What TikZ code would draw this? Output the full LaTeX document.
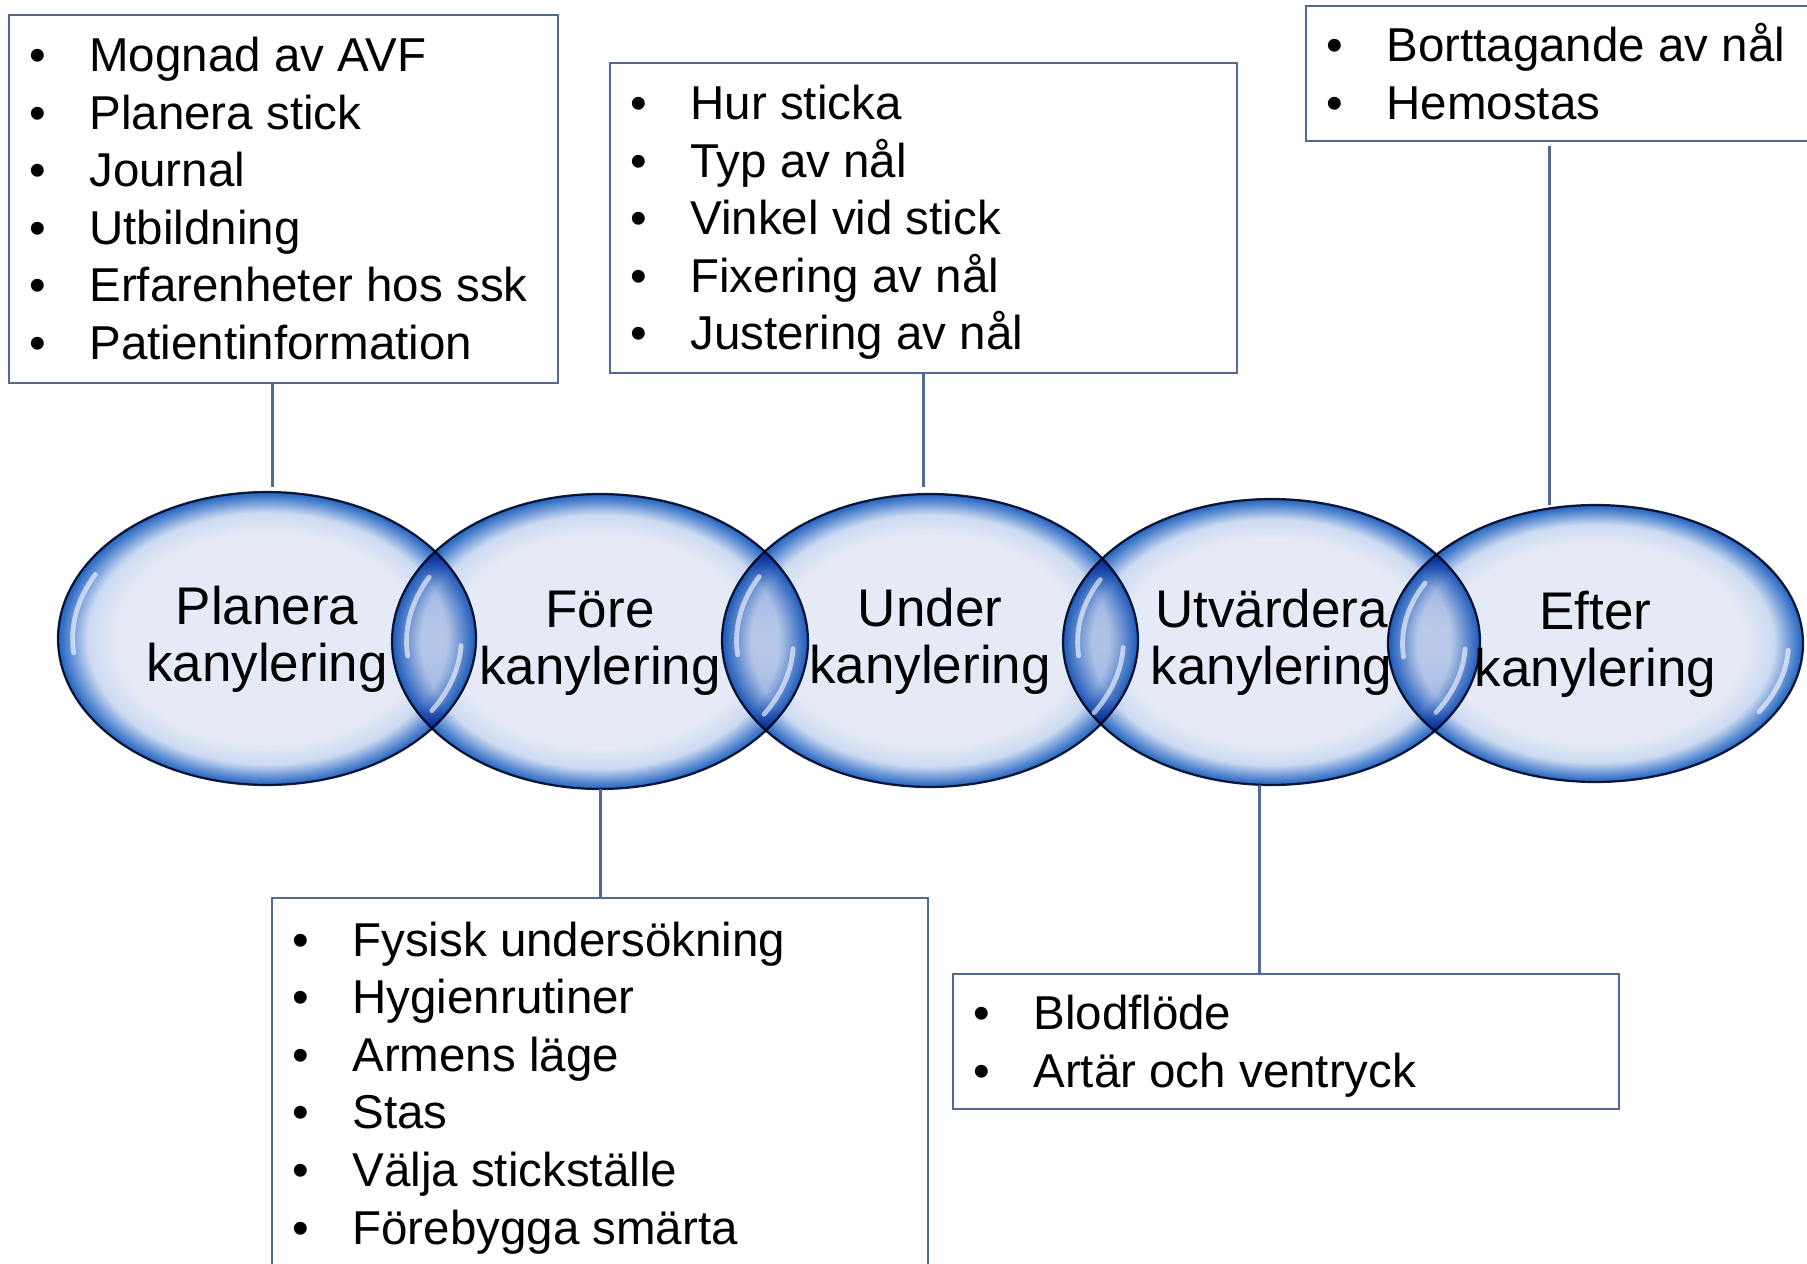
\documentclass[tikz,border=0pt]{standalone}
\usepackage{fontspec}
\setmainfont{Liberation Sans}
\usetikzlibrary{shapes.geometric,calc}
\definecolor{bubIn}{RGB}{229,234,246}
\definecolor{bubMid}{RGB}{204,218,241}
\definecolor{bubRim}{RGB}{88,138,210}
\definecolor{bubEdge}{RGB}{34,98,188}
\definecolor{bubOut}{RGB}{18,32,62}
\definecolor{boxc}{RGB}{84,106,148}
\pgfdeclareradialshading{bubble}{\pgfpoint{0bp}{0bp}}{color(0bp)=(bubIn); color(18bp)=(bubIn); color(21.5bp)=(bubMid); color(23.8bp)=(bubRim); color(25bp)=(bubEdge); color(50bp)=(bubEdge)}
\newcommand\itm[1]{\makebox[28pt][c]{•}\hspace{12pt}#1}
\newcommand\shineat[4]{%
  \draw[shine] plot[domain=152:186,samples=25] ({#1+0.93*#3*cos(\x)},{#2-0.93*#4*sin(\x)});
  \draw[shine] plot[domain=-32:-3,samples=25] ({#1+0.93*#3*cos(\x)},{#2-0.93*#4*sin(\x)});}
\tikzset{
  bubblenode/.style={ellipse, shading=bubble, draw=bubOut, line width=1.1pt,
    inner sep=0pt, outer sep=0pt, blend mode=multiply,
    font=\fontsize{26.5pt}{28.5pt}\selectfont},
  listbox/.style={draw=boxc, line width=1.25pt, fill=white, inner sep=0pt,
    outer sep=0pt, anchor=north west},
  listtext/.style={inner sep=0pt, anchor=base west,
    font=\fontsize{23.75pt}{28.8pt}\selectfont},
  conn/.style={draw=boxc, line width=1.5pt},
  shine/.style={white, line width=2.4pt, opacity=0.6, line cap=round}
}
\begin{document}
\begin{tikzpicture}[x=0.5pt,y=-0.5pt]
\fill[white] (0,0) rectangle (1807,1263);
\useasboundingbox (0,0) rectangle (1807,1263);
\clip (0,0) rectangle (1807,1263);

% list boxes
\node[listbox, minimum width=274.5pt, minimum height=184pt] (b1) at (9,15) {};
\node[listbox, minimum width=313.5pt, minimum height=155pt] (b2) at (610,63) {};
\node[listbox, minimum width=270pt, minimum height=67.5pt] (b3) at (1306,6) {};
\node[listbox, minimum width=328pt, minimum height=200pt] (b4) at (272,898) {};
\node[listbox, minimum width=333pt, minimum height=67.5pt] (b5) at (953,974) {};

\node[listtext] (t1) at (9,71.5) {\begin{tabular}[t]{@{}l@{}}
\itm{Mognad av AVF}\\ \itm{Planera stick}\\ \itm{Journal}\\ \itm{Utbildning}\\
\itm{Erfarenheter hos ssk}\\ \itm{Patientinformation}\end{tabular}};
\node[listtext] (t2) at (610,119.5) {\begin{tabular}[t]{@{}l@{}}
\itm{Hur sticka}\\ \itm{Typ av nål}\\ \itm{Vinkel vid stick}\\ \itm{Fixering av nål}\\
\itm{Justering av nål}\end{tabular}};
\node[listtext] (t3) at (1306,61.5) {\begin{tabular}[t]{@{}l@{}}
\itm{Borttagande av nål}\\ \itm{Hemostas}\end{tabular}};
\node[listtext] (t4) at (272,956) {\begin{tabular}[t]{@{}l@{}}
\itm{Fysisk undersökning}\\ \itm{Hygienrutiner}\\ \itm{Armens läge}\\ \itm{Stas}\\
\itm{Välja stickställe}\\ \itm{Förebygga smärta}\end{tabular}};
\node[listtext] (t5) at (953,1029.5) {\begin{tabular}[t]{@{}l@{}}
\itm{Blodflöde}\\ \itm{Artär och ventryck}\end{tabular}};

% bubbles
\node[bubblenode, minimum width=209pt, minimum height=146.5pt] (e1) at (267,638.5) {\begin{tabular}{@{}c@{}}\rule{0pt}{23pt}Planera\\kanylering\end{tabular}};
\node[bubblenode, minimum width=208pt, minimum height=147.5pt] (e2) at (600,641.5) {\begin{tabular}{@{}c@{}}\rule{0pt}{23pt}Före\\kanylering\end{tabular}};
\node[bubblenode, minimum width=208pt, minimum height=146.5pt] (e3) at (930,640.5) {\begin{tabular}{@{}c@{}}\rule{0pt}{23pt}Under\\kanylering\end{tabular}};
\node[bubblenode, minimum width=208.5pt, minimum height=143pt] (e4) at (1271.5,642) {\begin{tabular}{@{}c@{}}\rule{0pt}{23pt}Utvärdera\\kanylering\end{tabular}};
\node[bubblenode, minimum width=207.5pt, minimum height=138.5pt] (e5) at (1595.5,643.5) {\begin{tabular}{@{}c@{}}\rule{0pt}{23pt}Efter\\kanylering\end{tabular}};

\shineat{267}{638.5}{209}{146.5}
\shineat{600}{641.5}{208}{147.5}
\shineat{930}{640.5}{208}{146.5}
\shineat{1271.5}{642}{208.5}{143}
\shineat{1595.5}{643.5}{207.5}{138.5}

% connectors
\coordinate (k1) at (272,487);
\coordinate (k2) at (923,487);
\coordinate (k3) at (1549,505);
\coordinate (k5) at (1259,785);
\draw[conn] (b1.south -| k1) -- (k1);
\draw[conn] (b2.south -| k2) -- (k2);
\draw[conn, shorten <=2.5pt] (b3.south -| k3) -- (k3);
\draw[conn] (e2.south) -- (b4.north -| e2.south);
\draw[conn] (k5) -- (b5.north -| k5);
\end{tikzpicture}
\end{document}
